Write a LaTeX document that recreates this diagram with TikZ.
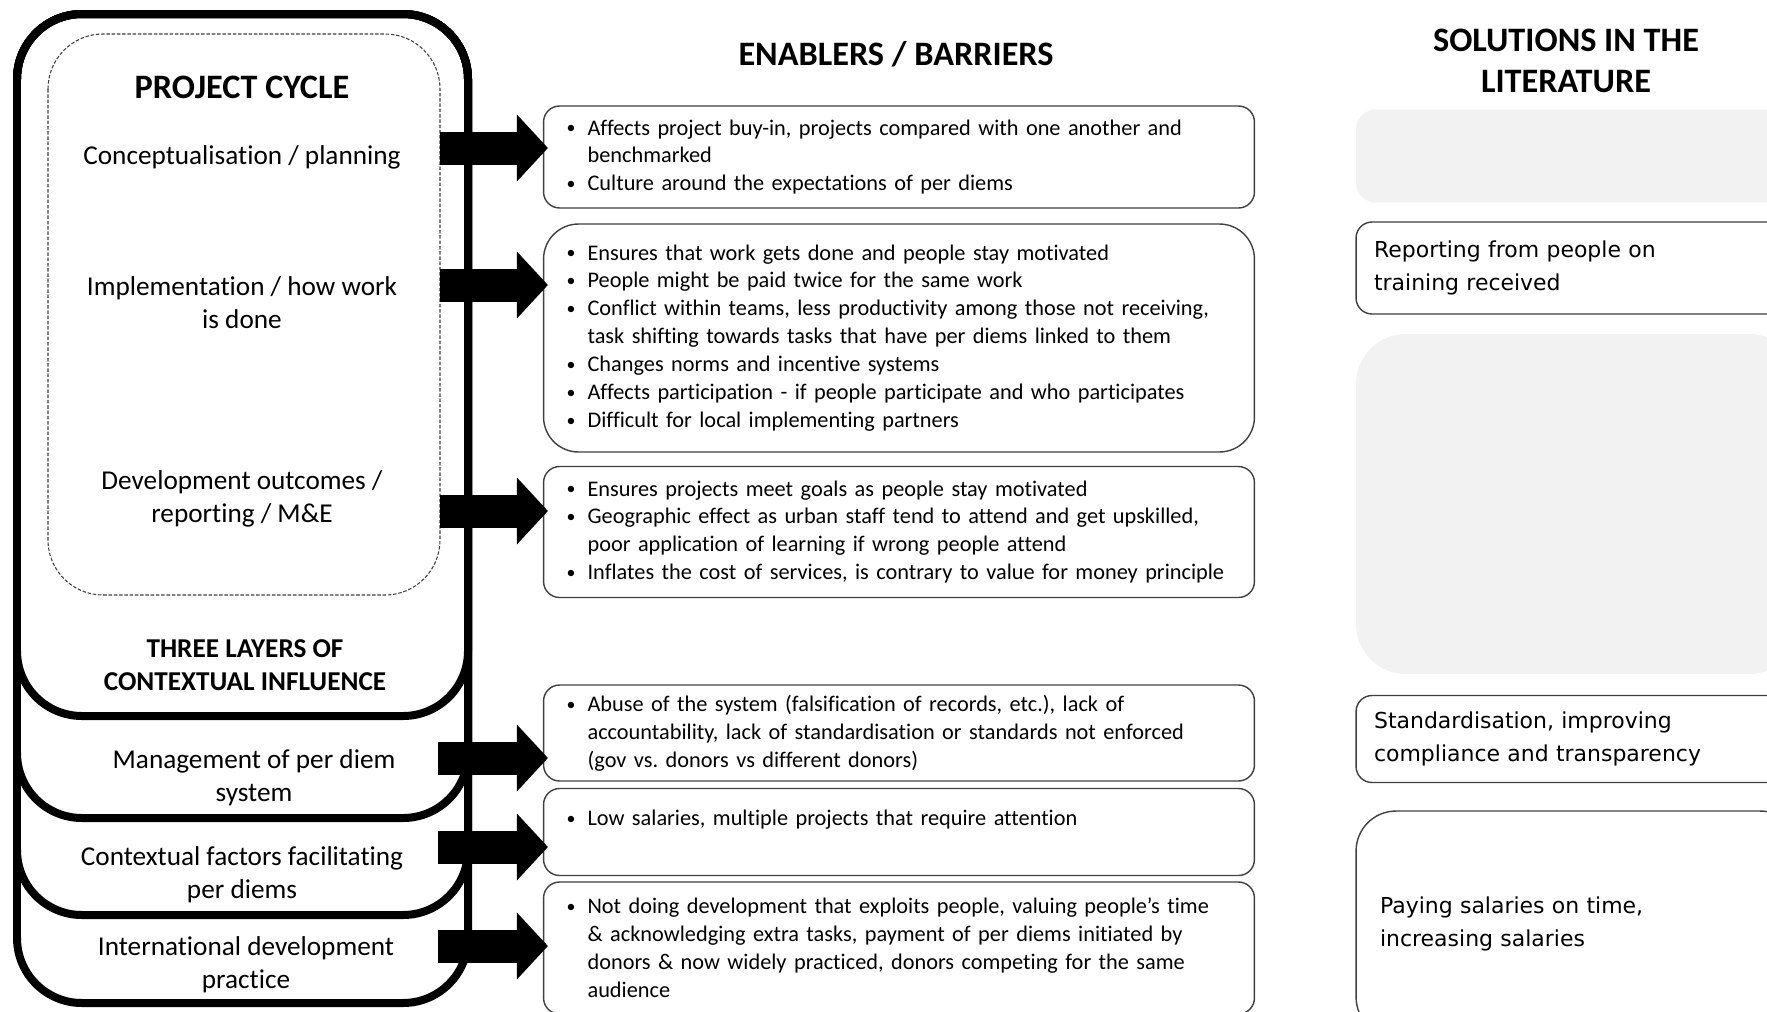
\documentclass[tikz,border=0pt]{standalone}
\usepackage{fontspec}
\setmainfont{Carlito}[Ligatures=CommonOff]
\newfontfamily\solfont{DejaVu Sans}
\usetikzlibrary{arrows.meta,positioning,calc}
\definecolor{panelgrey}{HTML}{F2F2F2}
\definecolor{edgegrey}{HTML}{404040}
\newcommand{\bul}{\makebox[0.42cm][l]{\raisebox{0.1ex}{\scalebox{0.8}{\textbullet}}}}
\newcommand{\ind}{\hspace*{0.42cm}}
\frenchspacing

\begin{document}
\begin{tikzpicture}[x=0.02cm, y=-0.02cm]
    \tikzset{layer/.style = {line width=0.16cm, rounded corners=1.3cm},
      cyclebox/.style = {draw=edgegrey, dash pattern=on 2pt off 1pt, line width=0.6pt, rounded corners=1.1cm},
      lab/.style = {align=center, font=\fontsize{15.5}{18.8}\selectfont},
      head/.style = {align=center, font=\bfseries\fontsize{19.5}{23.4}\selectfont},
      ebox/.style = {draw=edgegrey, line width=0.8pt, rounded corners=0.32cm,
        text width=13.3cm, inner xsep=0.46cm, inner ysep=2pt, align=left,
        font=\fontsize{12.7}{15.9}\selectfont},
      sbox/.style = {draw=edgegrey, line width=0.8pt, rounded corners=0.32cm,
        text width=8.16cm, inner xsep=0.36cm, align=left,
        font=\solfont\fontsize{12.5}{18.8}\selectfont},
      greybox/.style = {fill=panelgrey, rounded corners=0.4cm, minimum width=8.88cm},
      bigarrow/.style = {line width=0.66cm,
        -{Triangle[width=1.34cm, length=0.62cm, line width=0pt]}, shorten >=-0.1cm}}
    \clip (0,0) rectangle (1767,1011);
    \fill[white] (0,0) rectangle (1767,1011);

    \draw[layer] (17,14) rectangle (468,716);
    \draw[layer] (17,14) rectangle (468,818);
    \draw[layer] (17,14) rectangle (468,915);
    \draw[layer] (17,14) rectangle (468,1003);
    \draw[cyclebox] (48,34) rectangle (440,595);

    \node[head] (pc) at (242,87) {PROJECT CYCLE};
    \node[lab] (lab1) at (242,157) {Conceptualisation / planning};
    \node[lab] (lab2) at (242,303) {Implementation / how work\\is done};
    \node[lab] (lab3) at (242,499) {Development outcomes /\\reporting / M\&E};
    \node[lab, font=\bfseries\fontsize{15.5}{18.8}\selectfont] (tl) at (245,665) {THREE LAYERS OF\\CONTEXTUAL INFLUENCE};
    \node[lab] (lab4) at (254,778) {Management of per diem\\system};
    \node[lab] (lab5) at (242,875) {Contextual factors facilitating\\per diems};
    \node[lab] (lab6) at (246,965) {International development\\practice};

    \node[head] (eh) at (896,54) {ENABLERS / BARRIERS};
    \node[head] (sh) at (1566,61) {SOLUTIONS IN THE\\LITERATURE};

    \node[ebox, minimum height=2.04cm] (eb1) at (899,157) {\bul Affects project buy-in, projects compared with one another and\\
      \ind benchmarked\\
      \bul Culture around the expectations of per diems};
    \node[ebox, minimum height=4.56cm, rounded corners=0.7cm] (eb2) at (899,338) {\bul Ensures that work gets done and people stay motivated\\
      \bul People might be paid twice for the same work\\
      \bul Conflict within teams, less productivity among those not receiving,\\
      \ind task shifting towards tasks that have per diems linked to them\\
      \bul Changes norms and incentive systems\\
      \bul Affects participation - if people participate and who participates\\
      \bul Difficult for local implementing partners};
    \node[ebox, minimum height=2.62cm] (eb3) at (899,532) {\bul Ensures projects meet goals as people stay motivated\\
      \bul Geographic effect as urban staff tend to attend and get upskilled,\\
      \ind poor application of learning if wrong people attend\\
      \bul Inflates the cost of services, is contrary to value for money principle};
    \node[ebox, minimum height=1.92cm] (eb4) at (899,733) {\bul Abuse of the system (falsification of records, etc.), lack of\\
      \ind accountability, lack of standardisation or standards not enforced\\
      \ind (gov vs. donors vs different donors)};
    \node[ebox, minimum height=1.74cm] (eb5) at (899,832) {\bul Low salaries, multiple projects that require attention\\ ~};
    \node[ebox, minimum height=2.64cm] (eb6) at (899,948) {\bul Not doing development that exploits people, valuing people’s time\\
      \ind \& acknowledging extra tasks, payment of per diems initiated by\\
      \ind donors \& now widely practiced, donors competing for the same\\
      \ind audience};

    \node[greybox, minimum height=1.86cm] (sol1) at (1578,156) {};
    \node[sbox, minimum height=1.84cm] (sol2) at (1578,268) {Reporting from people on\\training received};
    \node[greybox, minimum height=6.8cm, rounded corners=1cm] (sol3) at (1578,504) {};
    \node[sbox, minimum height=1.74cm] (sol4) at (1578,739) {Standardisation, improving\\compliance and transparency};
    \node[sbox, minimum height=4.52cm, rounded corners=0.8cm, text width=7.92cm, inner xsep=0.48cm] (sol5) at (1578,924) {Paying salaries on time,\\increasing salaries};

    \coordinate (a1) at (440,148);
    \coordinate (a2) at (440,285);
    \coordinate (a3) at (440,511);
    \coordinate (a4) at (438,758);
    \coordinate (a5) at (438,847);
    \coordinate (a6) at (438,946);
    \draw[bigarrow] (a1) -- (a1 -| eb1.west);
    \draw[bigarrow] (a2) -- (a2 -| eb2.west);
    \draw[bigarrow] (a3) -- (a3 -| eb3.west);
    \draw[bigarrow] (a4) -- (a4 -| eb4.west);
    \draw[bigarrow] (a5) -- (a5 -| eb5.west);
    \draw[bigarrow] (a6) -- (a6 -| eb6.west);
\end{tikzpicture}
\end{document}
